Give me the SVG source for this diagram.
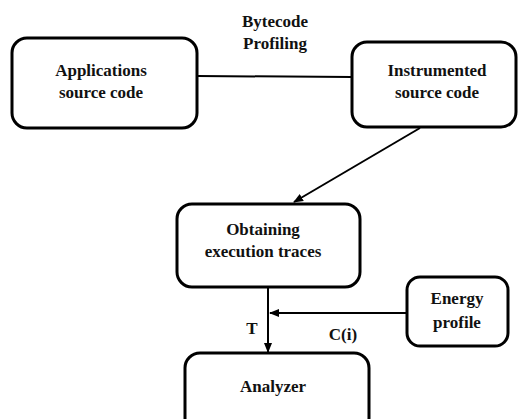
<svg xmlns="http://www.w3.org/2000/svg" width="518" height="419" viewBox="0 0 518 419">
<style>
.box{fill:#fff;stroke:#000;stroke-width:3}
.t{font-family:"Liberation Serif","Times New Roman",serif;font-weight:bold;font-size:17px;fill:#111;text-anchor:middle}
.c{stroke:#000;stroke-width:2;fill:none}
</style>
<defs>
<marker id="ah2" viewBox="0 0 10 10" refX="9" refY="5" markerWidth="10" markerHeight="10" markerUnits="userSpaceOnUse" orient="auto">
<path d="M0,1 L10,5 L0,9 z" fill="#000"/>
</marker>
</defs>
<rect width="518" height="419" fill="#fff"/>
<g id="connectors">
<line class="c" x1="197" y1="76" x2="352" y2="77"/>
<line class="c" x1="420" y1="128" x2="294" y2="202" marker-end="url(#ah2)"/>
<line class="c" x1="268" y1="287" x2="268" y2="352" marker-end="url(#ah2)"/>
<line class="c" x1="407" y1="313" x2="270" y2="313" marker-end="url(#ah2)"/>
</g>
<g id="bytecode-label"><text class="t" x="275" y="27">Bytecode</text><text class="t" x="275" y="49">Profiling</text></g>
<g id="applications">
<rect class="box" x="12" y="38" width="185" height="90" rx="15"/>
<text class="t" x="101" y="76">Applications</text><text class="t" x="101" y="98">source code</text>
</g>
<g id="instrumented">
<rect class="box" x="352" y="42" width="164" height="85" rx="15"/>
<text class="t" x="437" y="76">Instrumented</text><text class="t" x="437" y="98">source code</text>
</g>
<g id="obtaining">
<rect class="box" x="177" y="204" width="183" height="83" rx="15"/>
<text class="t" x="263" y="235">Obtaining</text><text class="t" x="263" y="257">execution traces</text>
</g>
<g id="energy">
<rect class="box" x="407" y="277" width="101" height="69" rx="13"/>
<text class="t" x="457" y="304">Energy</text><text class="t" x="457" y="328">profile</text>
</g>
<g id="analyzer">
<rect class="box" x="185" y="353" width="184" height="80" rx="15"/>
<text class="t" x="273" y="392">Analyzer</text>
</g>
<g id="labels">
<text class="t" x="252" y="334">T</text>
<text class="t" x="343" y="340">C(i)</text>
</g>
</svg>
